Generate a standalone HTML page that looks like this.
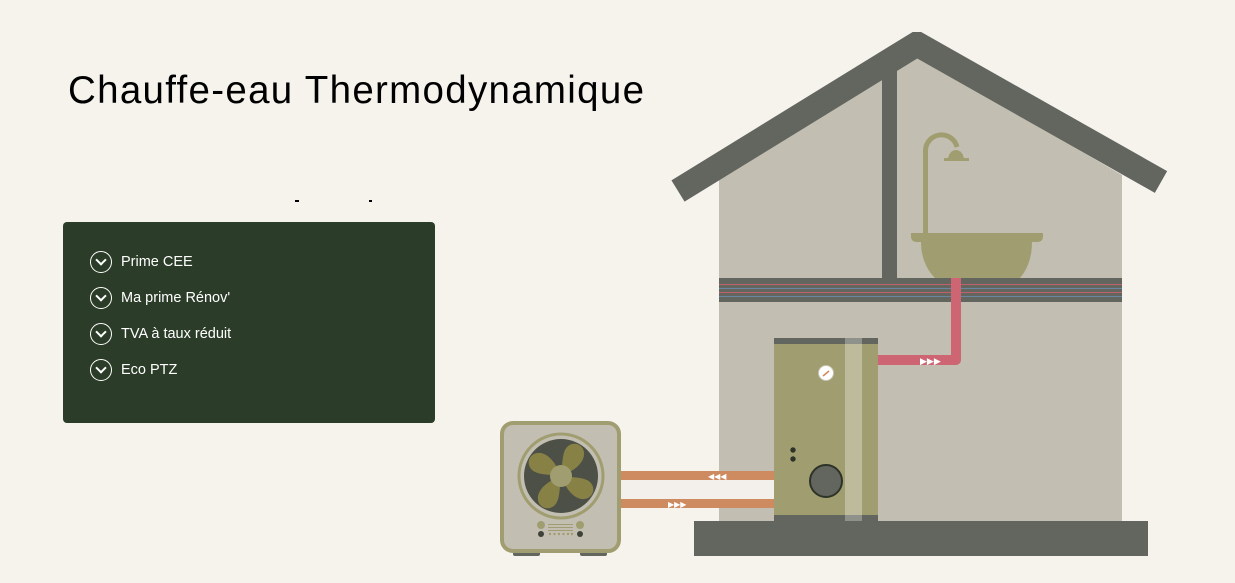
<!DOCTYPE html>
<html><head><meta charset="utf-8"><style>
html,body{margin:0;padding:0;background:#f6f3ed;}
body{width:1235px;height:583px;position:relative;overflow:hidden;font-family:"Liberation Sans",sans-serif;}
h1{position:absolute;left:68px;top:69px;margin:0;font-weight:400;font-size:38.5px;color:#000;letter-spacing:1.3px;}
.panel{position:absolute;left:63px;top:222px;width:372px;height:201px;background:#2b3d28;border-radius:4px;}
.it{position:absolute;left:27px;color:#fff;font-size:14.5px;height:24px;line-height:24px;}
.it span.c{display:inline-block;width:22px;height:22px;border:1.3px solid #fff;border-radius:50%;vertical-align:middle;margin-right:9px;position:relative;box-sizing:border-box;}
.it span.c:after{content:"";position:absolute;left:6px;top:4px;width:6px;height:6px;border-right:2px solid #fff;border-bottom:2px solid #fff;transform:rotate(45deg);}
</style></head><body>
<h1>Chauffe-eau Thermodynamique</h1>
<div style="position:absolute;left:295px;top:200px;width:4px;height:2px;background:#000"></div>
<div style="position:absolute;left:369px;top:200px;width:3px;height:2px;background:#000"></div>
<div class="panel">
<div class="it" style="top:28px"><span class="c"></span>Prime CEE</div>
<div class="it" style="top:64px"><span class="c"></span>Ma prime Rénov'</div>
<div class="it" style="top:100px"><span class="c"></span>TVA à taux réduit</div>
<div class="it" style="top:136px"><span class="c"></span>Eco PTZ</div>
</div>
<svg width="1235" height="583" style="position:absolute;left:0;top:0">
<polygon points="719,180 917,56 1122,175 1122,521 719,521" fill="#c2beb2"/>
<rect x="882" y="60" width="15" height="220" fill="#62665f"/>
<polyline points="678,191 917,44 1161,182" fill="none" stroke="#62665f" stroke-width="25" stroke-linejoin="miter"/>
<rect x="907" y="28" width="18" height="4" fill="#f6f3ed"/>
<path d="M925.5,233 V150 A16,16 0 0 1 957,147" fill="none" stroke="#a09e70" stroke-width="5"/>
<path d="M948,160 A8,10 0 0 1 964,160 Z" fill="#a09e70"/>
<rect x="944" y="158" width="25" height="3" fill="#a09e70"/>
<path d="M911,233 H1043 V237 A5,5 0 0 1 1038,242 H1032 C1032,258 1027,270 1020,278 H935 C927,270 921,258 921,242 H916 A5,5 0 0 1 911,237 Z" fill="#a09e70"/>
<rect x="719" y="278" width="403" height="24" fill="#62665f"/>
<rect x="719" y="284" width="403" height="1" fill="#c0616b"/>
<rect x="719" y="288" width="403" height="1" fill="#6a86a0"/>
<rect x="719" y="292" width="403" height="1" fill="#c0616b"/>
<rect x="719" y="296" width="403" height="1" fill="#6a86a0"/>
<path d="M956,278 V360 H878" fill="none" stroke="#cd6672" stroke-width="10" stroke-linejoin="round"/>
<text x="920" y="364" font-size="9" fill="#fff" font-family="DejaVu Sans">▶▶▶</text>
<rect x="694" y="521" width="454" height="35" fill="#62665f"/>
<rect x="774" y="338" width="104" height="183" fill="#a09e70"/>
<rect x="845" y="338" width="17" height="183" fill="#bebb9c"/>
<rect x="774" y="338" width="104" height="6" fill="#62665f"/>
<rect x="845" y="338" width="17" height="6" fill="#8e928b"/>
<rect x="774" y="515" width="104" height="6" fill="#62665f"/>
<rect x="845" y="515" width="17" height="6" fill="#8e928b"/>
<circle cx="826" cy="373" r="7.5" fill="#fff" stroke="#c8c4b4"/>
<line x1="823" y1="376" x2="829" y2="371" stroke="#d08a5a" stroke-width="1.5"/>
<circle cx="793" cy="450" r="2.7" fill="#2e3328"/>
<circle cx="793" cy="459" r="2.7" fill="#2e3328"/>
<circle cx="826" cy="481" r="16" fill="#62665f" stroke="#2e3328" stroke-width="2"/>
<rect x="621" y="471" width="153" height="9" fill="#cd8b5f"/>
<rect x="621" y="480" width="153" height="19" fill="#f3f0ec"/>
<rect x="621" y="499" width="153" height="9" fill="#cd8b5f"/>
<text x="708" y="479" font-size="8" fill="#fff" font-family="DejaVu Sans">◀◀◀</text>
<text x="668" y="507" font-size="8" fill="#fff" font-family="DejaVu Sans">▶▶▶</text>
<rect x="513" y="551" width="27" height="5" rx="2" fill="#62665f"/>
<rect x="580" y="551" width="27" height="5" rx="2" fill="#62665f"/>
<rect x="502" y="423" width="117" height="128" rx="11" fill="#c2beb2" stroke="#a09e70" stroke-width="4"/>
<circle cx="561" cy="476" r="42" fill="#c2beb2" stroke="#a09e70" stroke-width="3"/>
<circle cx="561" cy="476" r="37" fill="#4d5046"/>
<g fill="#878145">
<path d="M561,476 C548,474 532,476 529,465 C526,452 548,442 561,476Z"/>
<path d="M561,476 C563,463 561,447 572,444 C585,441 595,463 561,476Z"/>
<path d="M561,476 C574,478 590,476 593,487 C596,500 574,510 561,476Z"/>
<path d="M561,476 C559,489 561,505 550,508 C537,511 527,489 561,476Z"/>
</g>
<circle cx="561" cy="476" r="11" fill="#a09e70"/>
<circle cx="541" cy="525" r="4" fill="#a09e70"/>
<circle cx="580" cy="525" r="4" fill="#a09e70"/>
<circle cx="541" cy="534" r="3" fill="#3e4238"/>
<circle cx="580" cy="534" r="3" fill="#3e4238"/>
<rect x="548" y="524" width="25" height="1" fill="#a09e70"/>
<rect x="548" y="527" width="25" height="1" fill="#a09e70"/>
<rect x="548" y="530" width="25" height="1" fill="#a09e70"/>
<g fill="#a09e70"><circle cx="550" cy="534" r="1.2"/><circle cx="554.5" cy="534" r="1.2"/><circle cx="559" cy="534" r="1.2"/><circle cx="563.5" cy="534" r="1.2"/><circle cx="568" cy="534" r="1.2"/><circle cx="572" cy="534" r="1.2"/></g>
</svg>
</body></html>
